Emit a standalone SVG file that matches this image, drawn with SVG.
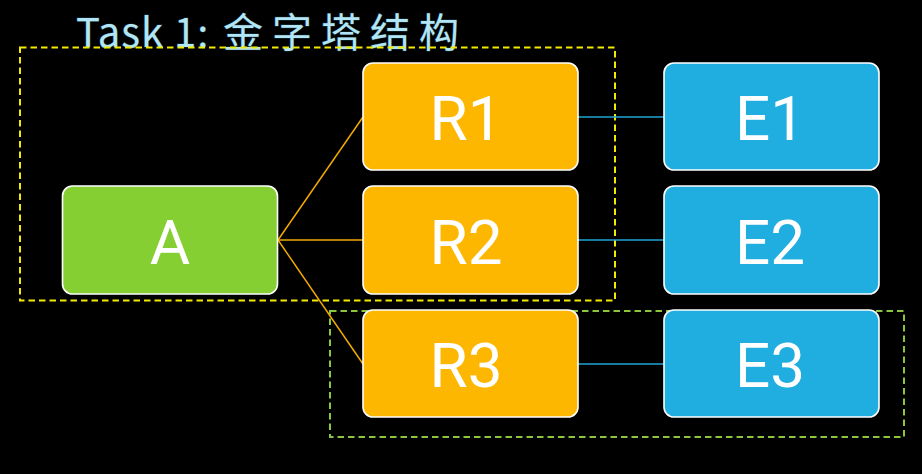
<svg xmlns="http://www.w3.org/2000/svg" width="922" height="474" viewBox="0 0 922 474">
<style>
.node{stroke:#ffffff;stroke-width:1.6}
.a{fill:#85CF33}
.r{fill:#FDB700}
.e{fill:#1FAEDF}
.lbl{font-family:Roboto,"Noto Sans",sans-serif;font-size:62px;fill:#ffffff;text-anchor:middle}
.grp{fill:none;stroke-width:2;stroke-dasharray:6.5 4}
.title{font-family:"Noto Sans CJK SC","Noto Sans",sans-serif;font-size:40px;fill:#B2E5F5;stroke:#1a3440;stroke-width:1;paint-order:stroke}
</style>
<rect width="922" height="474" fill="#000000"/>
<text class="title" x="76" y="47" letter-spacing="1">Task 1:<tspan x="223" letter-spacing="9">金字塔结构</tspan></text>
<g id="groups">
<rect class="grp" x="20" y="47.5" width="595" height="253" stroke="#F2EA00"/>
<rect class="grp" x="330" y="311" width="574" height="126" stroke="#8CC63F"/>
</g>
<g id="connectors" fill="none" stroke-width="1.5">
<g stroke="#F2A900">
<line x1="278" y1="240" x2="363" y2="117"/>
<line x1="278" y1="240" x2="363" y2="240"/>
<line x1="278" y1="240" x2="363" y2="364"/>
</g>
<g stroke="#1FA6D6">
<line x1="578" y1="117" x2="664" y2="117"/>
<line x1="578" y1="240" x2="664" y2="240"/>
<line x1="578" y1="364" x2="664" y2="364"/>
</g>
</g>
<g id="A"><rect class="node a" x="62.5" y="186" width="215" height="108" rx="10"/><text class="lbl" x="170" y="264">A</text></g>
<g id="R1"><rect class="node r" x="363" y="63" width="215" height="107" rx="10"/><text class="lbl" x="466" y="140">R1</text></g>
<g id="R2"><rect class="node r" x="363" y="186" width="215" height="108" rx="10"/><text class="lbl" x="466" y="264">R2</text></g>
<g id="R3"><rect class="node r" x="363" y="310" width="215" height="107" rx="10"/><text class="lbl" x="466" y="387">R3</text></g>
<g id="E1"><rect class="node e" x="664" y="63" width="215" height="107" rx="10"/><text class="lbl" x="770" y="140">E1</text></g>
<g id="E2"><rect class="node e" x="664" y="186" width="215" height="108" rx="10"/><text class="lbl" x="770" y="264">E2</text></g>
<g id="E3"><rect class="node e" x="664" y="310" width="215" height="107" rx="10"/><text class="lbl" x="770" y="387">E3</text></g>
</svg>
